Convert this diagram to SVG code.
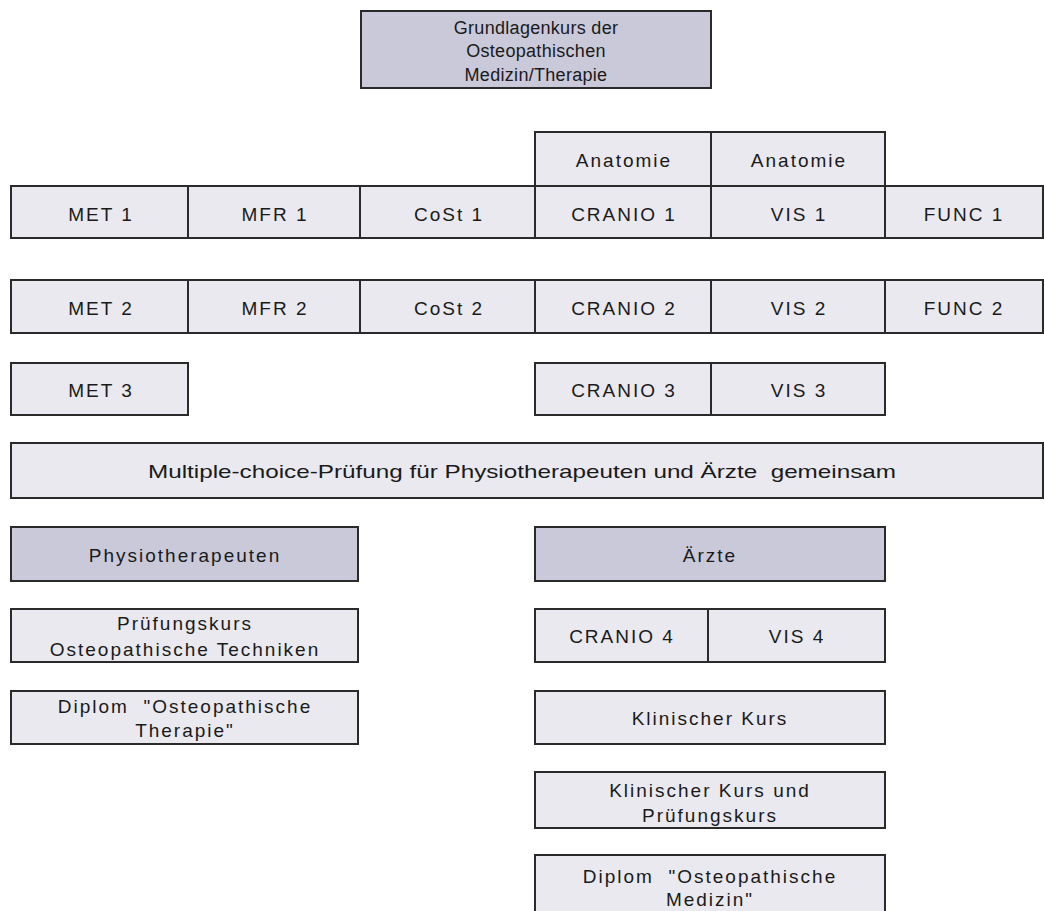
<svg xmlns="http://www.w3.org/2000/svg" width="1044" height="911" viewBox="0 0 1044 911">
<style>
.d{fill:#c9c9da;stroke:#2a2a2a;stroke-width:2}
.l{fill:#e9e9ef;stroke:#2a2a2a;stroke-width:2}
.div{stroke:#2a2a2a;stroke-width:2}
text{font-family:"Liberation Sans",Arial,sans-serif;font-size:19px;fill:#1a1a1a;text-anchor:middle;letter-spacing:2px}
text.s{font-size:18px;letter-spacing:0.3px}
</style>
<rect width="1044" height="911" fill="#ffffff"/>
<g id="grundlagen">
<rect class="d" x="361" y="11" width="350" height="77"/>
<text class="s" x="536" y="34">Grundlagenkurs der</text>
<text class="s" x="536" y="57">Osteopathischen</text>
<text class="s" x="536" y="81">Medizin/Therapie</text>
</g>
<g id="anatomie">
<rect class="l" x="535" y="132" width="350" height="54"/>
<line class="div" x1="711" y1="132" x2="711" y2="186"/>
<text x="624" y="167">Anatomie</text>
<text x="799" y="167">Anatomie</text>
</g>
<g id="row1">
<rect class="l" x="11" y="186" width="1032" height="52"/>
<line class="div" x1="188" y1="186" x2="188" y2="238"/>
<line class="div" x1="360" y1="186" x2="360" y2="238"/>
<line class="div" x1="535" y1="186" x2="535" y2="238"/>
<line class="div" x1="711" y1="186" x2="711" y2="238"/>
<line class="div" x1="885" y1="186" x2="885" y2="238"/>
<text x="101" y="221">MET 1</text>
<text x="275" y="221">MFR 1</text>
<text x="449" y="221">CoSt 1</text>
<text x="624" y="221">CRANIO 1</text>
<text x="799" y="221">VIS 1</text>
<text x="964" y="221">FUNC 1</text>
</g>
<g id="row2">
<rect class="l" x="11" y="280" width="1032" height="53"/>
<line class="div" x1="188" y1="280" x2="188" y2="333"/>
<line class="div" x1="360" y1="280" x2="360" y2="333"/>
<line class="div" x1="535" y1="280" x2="535" y2="333"/>
<line class="div" x1="711" y1="280" x2="711" y2="333"/>
<line class="div" x1="885" y1="280" x2="885" y2="333"/>
<text x="101" y="315">MET 2</text>
<text x="275" y="315">MFR 2</text>
<text x="449" y="315">CoSt 2</text>
<text x="624" y="315">CRANIO 2</text>
<text x="799" y="315">VIS 2</text>
<text x="964" y="315">FUNC 2</text>
</g>
<g id="met3">
<rect class="l" x="11" y="363" width="177" height="52"/>
<text x="101" y="397">MET 3</text>
</g>
<g id="row3">
<rect class="l" x="535" y="363" width="350" height="52"/>
<line class="div" x1="711" y1="363" x2="711" y2="415"/>
<text x="624" y="397">CRANIO 3</text>
<text x="799" y="397">VIS 3</text>
</g>
<g id="mc">
<rect class="l" x="11" y="443" width="1032" height="55"/>
<text x="522" y="478" textLength="748" lengthAdjust="spacingAndGlyphs" style="letter-spacing:0" xml:space="preserve">Multiple-choice-Prüfung für Physiotherapeuten und Ärzte  gemeinsam</text>
</g>
<g id="physio">
<rect class="d" x="11" y="527" width="347" height="54"/>
<text x="185" y="562">Physiotherapeuten</text>
</g>
<g id="aerzte">
<rect class="d" x="535" y="527" width="350" height="54"/>
<text x="710" y="562">Ärzte</text>
</g>
<g id="pruefung">
<rect class="l" x="11" y="609" width="347" height="53"/>
<text x="185" y="630">Prüfungskurs</text>
<text x="185" y="656">Osteopathische Techniken</text>
</g>
<g id="row4">
<rect class="l" x="535" y="609" width="350" height="53"/>
<line class="div" x1="708" y1="609" x2="708" y2="662"/>
<text x="622" y="643">CRANIO 4</text>
<text x="797" y="643">VIS 4</text>
</g>
<g id="diplomT">
<rect class="l" x="11" y="691" width="347" height="53"/>
<text x="185" y="713" xml:space="preserve">Diplom  "Osteopathische</text>
<text x="185" y="737">Therapie"</text>
</g>
<g id="klinisch">
<rect class="l" x="535" y="691" width="350" height="53"/>
<text x="710" y="725">Klinischer Kurs</text>
</g>
<g id="klinischP">
<rect class="l" x="535" y="772" width="350" height="56"/>
<text x="710" y="797">Klinischer Kurs und</text>
<text x="710" y="822">Prüfungskurs</text>
</g>
<g id="diplomM">
<rect class="l" x="535" y="855" width="350" height="60"/>
<text x="710" y="883" xml:space="preserve">Diplom  "Osteopathische</text>
<text x="710" y="906">Medizin"</text>
</g>
<g id="connectors"></g>
</svg>
